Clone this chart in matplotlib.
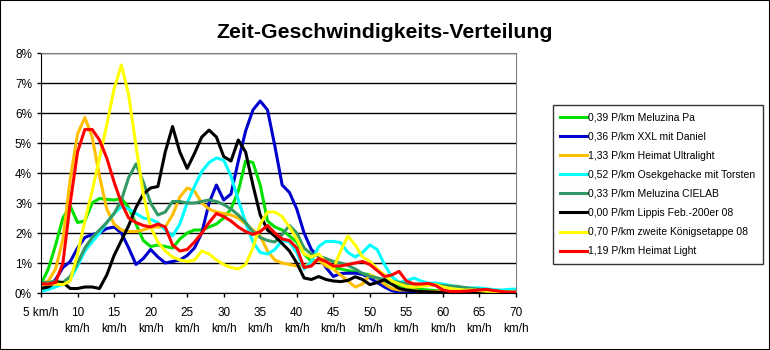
import numpy as np
import matplotlib.pyplot as plt
from matplotlib.patches import Rectangle

plt.rcParams['font.family'] = ['Liberation Sans', 'DejaVu Sans']

# Geschwindigkeit in km/h (5 .. 70)
speed = np.arange(5, 71)

# Anteil der Zeit in % je km/h
meluzina_pa = [0.3, 0.8, 1.6, 2.5, 2.9, 2.35, 2.4, 3.0, 3.15, 3.12, 3.1, 3.15, 2.85, 2.3, 1.75,
               1.55, 1.6, 1.55, 1.5, 1.8, 2.0, 2.1, 2.1, 2.2, 2.3, 2.5, 2.8, 3.4, 4.4, 4.35,
               3.6, 2.4, 2.2, 2.1, 1.9, 1.7, 1.3, 1.05, 1.1, 0.95, 0.85, 0.8, 0.75, 0.7, 0.65,
               0.6, 0.5, 0.4, 0.3, 0.25, 0.2, 0.15, 0.12, 0.1, 0.08, 0.05, 0.03, 0.03, 0.03, 0.03,
               0.03, 0.03, 0.03, 0.03, 0.03, 0.03]
xxl_daniel = [0.15, 0.2, 0.45, 0.85, 1.05, 1.5, 1.85, 1.95, 2.0, 2.15, 2.2, 2.0, 1.5, 0.95, 1.15,
              1.45, 1.2, 1.0, 1.05, 1.1, 1.25, 1.5, 2.0, 3.0, 3.6, 3.1, 3.3, 4.4, 5.4, 6.1,
              6.4, 6.1, 4.9, 3.6, 3.35, 2.8, 2.0, 1.45, 1.2, 0.85, 0.55, 0.65, 0.66, 0.66, 0.62,
              0.5, 0.35, 0.2, 0.08, 0.03, 0.02, 0.02, 0.02, 0.02, 0.02, 0.02, 0.02, 0.02, 0.02, 0.02,
              0.02, 0.02, 0.02, 0.02, 0.02, 0.02]
heimat_ultralight = [0.3, 0.4, 0.8, 1.8, 3.8, 5.3, 5.85, 5.2, 3.9, 2.8, 2.3, 2.1, 2.05, 2.05, 2.1,
                     2.2, 2.2, 2.2, 2.6, 3.2, 3.5, 3.4, 3.0, 2.8, 2.7, 2.65, 2.6, 2.5, 2.3, 2.1,
                     1.9, 1.4, 1.1, 1.0, 0.95, 0.9, 0.9, 1.0, 1.1, 0.9, 0.8, 0.6, 0.4, 0.2, 0.3,
                     0.6, 0.5, 0.3, 0.15, 0.1, 0.1, 0.1, 0.05, 0.05, 0.05, 0.05, 0.04, 0.04, 0.04, 0.03,
                     0.03, 0.03, 0.03, 0.03, 0.03, 0.03]
osekgehacke = [0.05, 0.12, 0.2, 0.3, 0.45, 0.9, 1.4, 1.7, 2.0, 2.35, 2.65, 2.88, 2.8, 2.65, 2.5,
               2.45, 2.35, 2.1, 1.9, 2.3, 3.0, 3.55, 4.05, 4.35, 4.5, 4.43, 3.9, 3.1, 2.35, 1.7,
               1.35, 1.3, 1.45, 1.75, 1.7, 1.35, 0.8, 1.05, 1.55, 1.72, 1.72, 1.68, 1.35, 1.2, 1.35,
               1.6, 1.45, 0.95, 0.55, 0.35, 0.4, 0.5, 0.4, 0.33, 0.33, 0.3, 0.25, 0.2, 0.17, 0.17,
               0.17, 0.14, 0.11, 0.1, 0.12, 0.13]
meluzina_cielab = [0.35, 0.35, 0.4, 0.35, 0.55, 1.0, 1.5, 1.85, 2.1, 2.35, 2.65, 3.1, 3.85, 4.3, 3.7,
                   3.0, 2.6, 2.7, 3.05, 3.05, 3.0, 3.0, 3.05, 3.1, 3.05, 2.95, 2.8, 2.6, 2.35, 2.05,
                   1.85, 1.75, 1.7, 1.95, 2.25, 2.0, 1.5, 1.3, 1.22, 1.15, 1.05, 1.0, 0.92, 0.8, 0.65,
                   0.55, 0.5, 0.45, 0.4, 0.35, 0.3, 0.3, 0.28, 0.28, 0.27, 0.25, 0.23, 0.22, 0.18, 0.15,
                   0.12, 0.1, 0.07, 0.05, 0.03, 0.02]
lippis = [0.15, 0.2, 0.35, 0.35, 0.15, 0.15, 0.2, 0.2, 0.15, 0.6, 1.25, 1.75, 2.25, 2.85, 3.3,
          3.5, 3.55, 4.7, 5.55, 4.7, 4.15, 4.65, 5.2, 5.43, 5.2, 4.55, 4.4, 5.1, 4.7, 3.6,
          2.6, 2.1, 1.9, 1.65, 1.4, 1.0, 0.5, 0.45, 0.55, 0.45, 0.4, 0.38, 0.42, 0.54, 0.45,
          0.28, 0.35, 0.44, 0.3, 0.15, 0.1, 0.07, 0.05, 0.04, 0.03, 0.02, 0.01, 0.01, 0.01, 0.01,
          0.01, 0.01, 0.01, 0.01, 0.01, 0.01]
koenigsetappe = [0.27, 0.3, 0.3, 0.28, 0.4, 1.3, 2.4, 3.4, 4.5, 5.6, 6.8, 7.6, 6.6, 4.9, 3.3,
                 2.2, 1.7, 1.4, 1.2, 1.1, 1.05, 1.1, 1.4, 1.3, 1.1, 0.95, 0.85, 0.8, 0.95, 1.5,
                 2.3, 2.7, 2.7, 2.55, 2.2, 1.8, 1.3, 1.2, 1.3, 1.0, 0.8, 1.4, 1.9, 1.6, 1.2,
                 1.05, 0.8, 0.6, 0.4, 0.3, 0.22, 0.2, 0.22, 0.25, 0.28, 0.2, 0.15, 0.12, 0.1, 0.1,
                 0.08, 0.06, 0.05, 0.04, 0.03, 0.03]
heimat_light = [0.3, 0.3, 0.35, 1.0, 3.0, 4.7, 5.45, 5.45, 5.1, 4.5, 3.7, 3.0, 2.5, 2.35, 2.25,
                2.2, 2.3, 2.2, 1.6, 1.4, 1.45, 1.7, 2.0, 2.35, 2.65, 2.55, 2.4, 2.2, 2.05, 1.95,
                2.05, 2.25, 2.0, 1.8, 1.75, 1.5, 0.85, 0.9, 1.15, 1.05, 0.9, 0.9, 0.95, 1.0, 1.05,
                0.95, 0.75, 0.55, 0.6, 0.72, 0.4, 0.3, 0.3, 0.32, 0.25, 0.1, 0.05, 0.05, 0.06, 0.08,
                0.1, 0.12, 0.08, 0.05, 0.03, 0.03]

series = [
    ('0,39 P/km Meluzina Pa', meluzina_pa, '#00e000'),
    ('0,36 P/km XXL mit Daniel', xxl_daniel, '#0000cc'),
    ('1,33 P/km Heimat Ultralight', heimat_ultralight, '#ffbf00'),
    ('0,52 P/km Osekgehacke mit Torsten', osekgehacke, '#00ffff'),
    ('0,33 P/km Meluzina CIELAB', meluzina_cielab, '#339966'),
    ('0,00 P/km Lippis Feb.-200er 08', lippis, '#000000'),
    ('0,70 P/km zweite Königsetappe 08', koenigsetappe, '#ffff00'),
    ('1,19 P/km Heimat Light', heimat_light, '#ff0000'),
]

tick_speeds = list(range(5, 71, 5))
tick_labels = ['5 km/h'] + ['%d\nkm/h' % s for s in tick_speeds[1:]]

fig = plt.figure(figsize=(7.7, 3.5), dpi=100)
ax = fig.add_axes([41/770, 1 - 293/350, 475/770, 240/350])

for label, vals, col in series:
    ax.plot(speed, vals, color=col, lw=2.2, label=label, solid_joinstyle='round')

ax.set_xlim(5, 70)
ax.set_ylim(0, 8)
ax.set_yticks(range(0, 9))
ax.set_yticklabels(['%d%%' % i for i in range(0, 9)], fontsize=8.5)
ax.set_xticks(tick_speeds)
ax.set_xticklabels(tick_labels, fontsize=8.5, linespacing=1.5, va='top')
ax.tick_params(axis='both', length=3, width=1, color='black')
ax.tick_params(axis='x', pad=7)
ax.grid(axis='y', color='black', lw=1)
ax.set_axisbelow(True)
ax.spines['top'].set_color('#808080')
ax.spines['right'].set_color('#808080')
ax.spines['left'].set_color('black')
ax.spines['bottom'].set_color('black')

fig.text(0.5, 1 - 32/350, 'Zeit-Geschwindigkeits-Verteilung', ha='center', va='center',
         fontsize=15.3, fontweight='bold')

leg = fig.legend(loc='upper left', bbox_to_anchor=(553/770, 1 - 105/350), fontsize=7.5,
                 frameon=True, fancybox=False, edgecolor='black', handlelength=2.6,
                 handletextpad=0.1, labelspacing=0.88, borderpad=0.7, borderaxespad=0)
leg.get_frame().set_linewidth(1)

fig.patches.append(Rectangle((0, 0), 1, 1, transform=fig.transFigure, fill=False,
                             edgecolor='black', lw=1.5))

fig.savefig('out.png', dpi=100)
